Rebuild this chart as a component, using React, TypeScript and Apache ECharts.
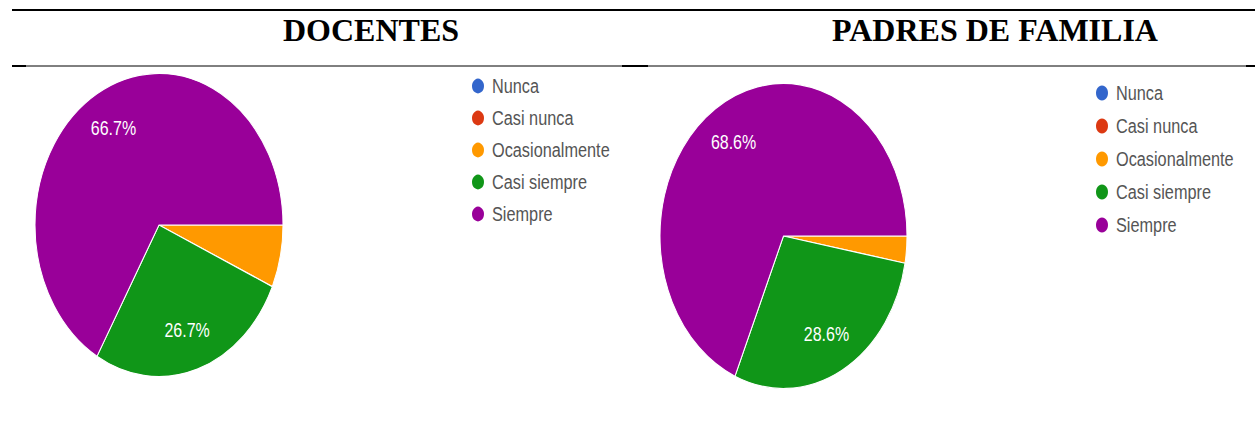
import React, { useEffect, useRef } from "react";
import * as echarts from "echarts";

const categories = ["Nunca", "Casi nunca", "Ocasionalmente", "Casi siempre", "Siempre"];
const docentesValues = [0, 0, 1, 4, 10];
const padresValues = [0, 0, 1, 10, 24];
const sliceColors = ["#3366cc", "#dc3912", "#ff9900", "#109618", "#990099"];
const panelTitles = ["DOCENTES", "PADRES DE FAMILIA"];

const PAGE_W = 1255;
const PAGE_H = 423;

type PanelCfg = {
  left: number;
  width: number;
  scaleY: number;
  cx: number;
  cy: number; // page coords
  r: number;
  legendLeft: number;
  legendFirstY: number; // page coords of first icon center
  legendStep: number; // page spacing
  values: number[];
};

const panels: PanelCfg[] = [
  {
    left: 0,
    width: 627,
    scaleY: 1.222,
    cx: 159,
    cy: 225,
    r: 124,
    legendLeft: 470,
    legendFirstY: 86,
    legendStep: 32,
    values: docentesValues,
  },
  {
    left: 627,
    width: 628,
    scaleY: 1.235,
    cx: 783.5,
    cy: 236,
    r: 123.5,
    legendLeft: 1094,
    legendFirstY: 93,
    legendStep: 33,
    values: padresValues,
  },
];

function PieChart({ cfg }: { cfg: PanelCfg }) {
  const ref = useRef<HTMLDivElement>(null);
  const innerH = PAGE_H / cfg.scaleY;
  useEffect(() => {
    if (!ref.current) return;
    const chart = echarts.init(ref.current, null, { renderer: "svg" });
    const data = categories.map((name, i) => ({
      name,
      value: cfg.values[i],
      itemStyle: { color: sliceColors[i] },
    }));
    const cx = cfg.cx - cfg.left;
    const cy = cfg.cy / cfg.scaleY;
    const lineH = 18;
    const step = cfg.legendStep / cfg.scaleY;
    const legendTop = cfg.legendFirstY / cfg.scaleY - lineH / 2;
    chart.setOption({
      animation: false,
      legend: {
        orient: "vertical",
        left: cfg.legendLeft - cfg.left,
        top: legendTop,
        icon: "circle",
        itemWidth: 18,
        itemHeight: 14,
        itemGap: step - lineH,
        padding: 0,
        selectedMode: false,
        data: categories,
        textStyle: {
          fontSize: 16.3,
          lineHeight: lineH,
          color: "#555555",
          fontFamily: "Liberation Sans, Arial, sans-serif",
        },
      },
      series: [
        {
          type: "pie",
          center: [cx, cy],
          radius: [0, cfg.r],
          startAngle: 0,
          clockwise: true,
          silent: true,
          label: { show: false },
          labelLine: { show: false },
          itemStyle: { borderColor: "#ffffff", borderWidth: 1 },
          data,
        },
        {
          type: "pie",
          center: [cx, cy],
          radius: [cfg.r * 0.42, cfg.r],
          startAngle: 0,
          clockwise: true,
          silent: true,
          legendHoverLink: false,
          itemStyle: { color: "rgba(0,0,0,0)", borderWidth: 0 },
          labelLine: { show: false },
          label: {
            show: true,
            position: "inside",
            color: "#ffffff",
            fontSize: 16,
            fontFamily: "Liberation Sans, Arial, sans-serif",
            formatter: (p: any) => (p.percent < 10 ? "" : p.percent.toFixed(1) + "%"),
          },
          data: categories.map((name, i) => ({ name, value: cfg.values[i] })),
        },
      ],
    });
    return () => chart.dispose();
  }, []);
  return (
    <div
      ref={ref}
      style={{
        position: "absolute",
        left: cfg.left,
        top: 0,
        width: cfg.width,
        height: innerH,
        transform: `scaleY(${cfg.scaleY})`,
        transformOrigin: "0 0",
      }}
    />
  );
}

function Frame() {
  const ref = useRef<HTMLDivElement>(null);
  useEffect(() => {
    if (!ref.current) return;
    const chart = echarts.init(ref.current, null, { renderer: "svg" });
    const titleStyle = {
      fill: "#000000",
      fontSize: 32,
      fontWeight: "bold",
      fontFamily: "Liberation Serif, Times New Roman, serif",
      align: "center",
      verticalAlign: "middle",
    };
    chart.setOption({
      animation: false,
      graphic: [
        { type: "line", shape: { x1: 12, y1: 10, x2: PAGE_W, y2: 10 }, style: { stroke: "#000", lineWidth: 2 } },
        { type: "line", shape: { x1: 12, y1: 66, x2: PAGE_W, y2: 66 }, style: { stroke: "#000", lineWidth: 1 } },
        { type: "rect", shape: { x: 12, y: 65, width: 14, height: 2 }, style: { fill: "#000" } },
        { type: "rect", shape: { x: 622, y: 65, width: 26, height: 2 }, style: { fill: "#000" } },
        { type: "rect", shape: { x: 1246, y: 65, width: 9, height: 2 }, style: { fill: "#000" } },
        { type: "text", x: 371, y: 29.5, style: { ...titleStyle, text: panelTitles[0] } },
        { type: "text", x: 995, y: 29.5, style: { ...titleStyle, text: panelTitles[1] } },
      ],
    });
    return () => chart.dispose();
  }, []);
  return <div ref={ref} style={{ position: "absolute", left: 0, top: 0, width: PAGE_W, height: PAGE_H }} />;
}

export default function App() {
  return (
    <div style={{ position: "absolute", left: 0, top: 0, width: PAGE_W, height: PAGE_H, background: "#fff", overflow: "hidden" }}>
      <Frame />
      {panels.map((p, i) => (
        <PieChart key={i} cfg={p} />
      ))}
    </div>
  );
}
